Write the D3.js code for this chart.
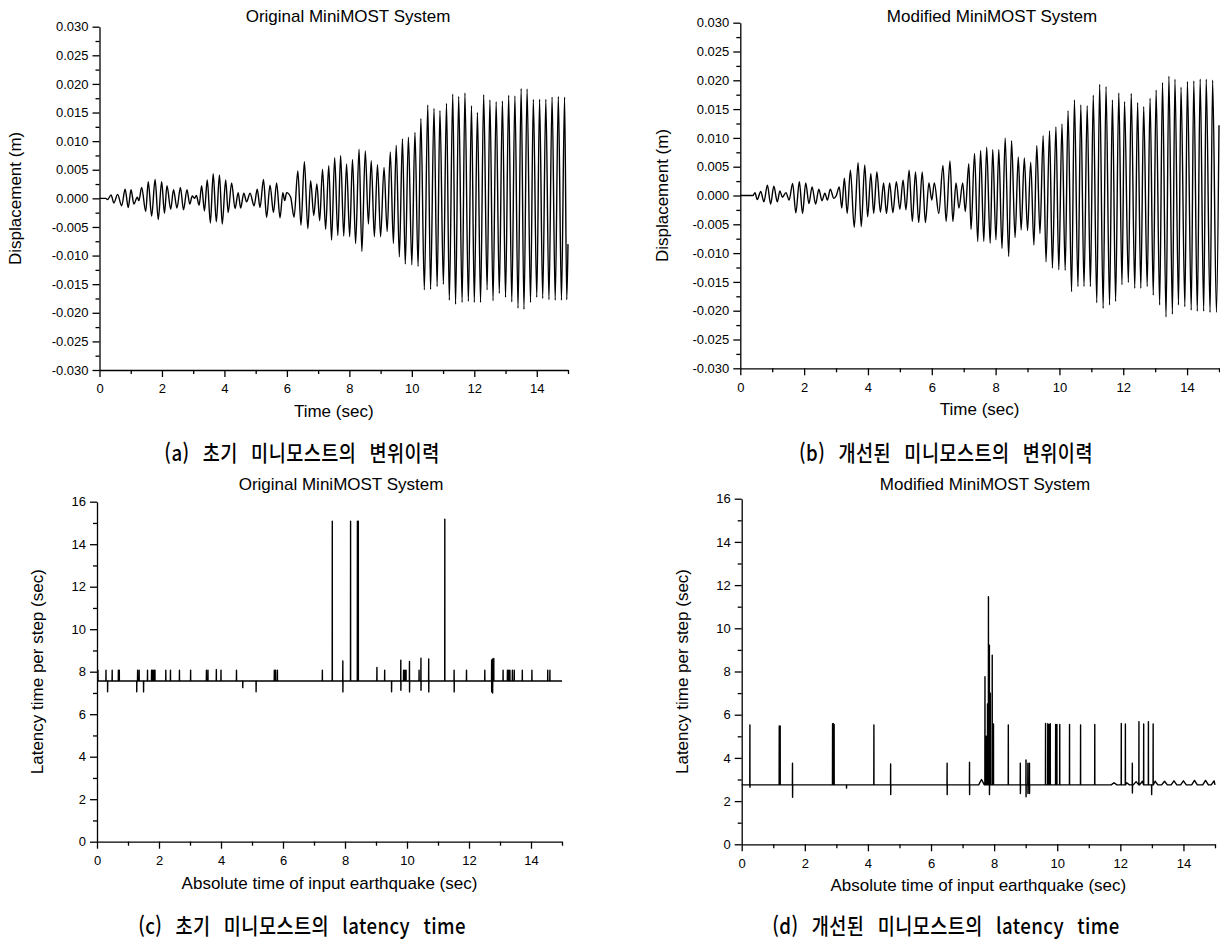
<!DOCTYPE html>
<html lang="ko">
<head>
<meta charset="UTF-8">
<title>MiniMOST displacement and latency</title>
<script src="https://d3js.org/d3.v7.min.js"></script>
<style>
  body { margin: 0; background: #fff; }
  svg text { font-family: "Liberation Sans", Arial, sans-serif; fill: #000; }
  svg text.cap { font-family: "Noto Sans CJK KR", sans-serif; font-weight: 500; letter-spacing: 0.5px; word-spacing: 9px; }
</style>
</head>
<body>
<svg width="1220" height="941"></svg>
<script>
// ---- displacement histories: peak / trough values (m) ----
const timeA = [0, 0.20, 0.26, 0.37, 0.46, 0.58, 0.71, 0.82, 0.92, 1.01, 1.10, 1.21, 1.26, 1.35, 1.48, 1.56, 1.67, 1.78, 1.88, 1.99,
  2.08, 2.16, 2.28, 2.37, 2.48, 2.59, 2.69, 2.80, 2.89, 2.97, 3.04, 3.10, 3.19, 3.27, 3.36, 3.45, 3.55, 3.64, 3.74, 3.84,
  3.93, 4.04, 4.12, 4.23, 4.34, 4.44, 4.52, 4.62, 4.71, 4.82, 4.95, 5.05, 5.14, 5.25, 5.35, 5.46, 5.57, 5.67, 5.78, 5.87,
  5.93, 5.99, 6.12, 6.23, 6.35, 6.45, 6.56, 6.67, 6.76, 6.86, 6.96, 7.05, 7.14, 7.24, 7.34, 7.43, 7.53, 7.63, 7.72, 7.82,
  7.91, 8.01, 8.10, 8.20, 8.31, 8.40, 8.51, 8.61, 8.70, 8.80, 8.90, 9.00, 9.11, 9.21, 9.31, 9.41, 9.50, 9.60, 9.70, 9.79,
  9.89, 10.00, 10.10, 10.20, 10.29, 10.40, 10.51, 10.60, 10.71, 10.81, 10.90, 11.01, 11.11, 11.20, 11.31, 11.40, 11.50, 11.61, 11.70, 11.81,
  11.91, 12.00, 12.10, 12.20, 12.30, 12.41, 12.50, 12.60, 12.70, 12.80, 12.90, 13.00, 13.10, 13.20, 13.30, 13.40, 13.50, 13.59, 13.69, 13.80,
  13.89, 14.00, 14.09, 14.19, 14.29, 14.39, 14.49, 14.59, 14.69, 14.79, 14.89, 14.96, 15.00];
const dispA = [0, 0, -0.0002, 0.0006, -0.0008, 0.0007, -0.0013, 0.0016, -0.0016, 0.0015, -0.0010, 0.0002, -0.0004, 0.0019, -0.0023, 0.0029, -0.0031, 0.0033, -0.0037, 0.0029,
  -0.0026, 0.0022, -0.0019, 0.0015, -0.0017, 0.0019, -0.0020, 0.0015, -0.0010, 0.0004, 0.0000, 0.0005, -0.0012, 0.0022, -0.0022, 0.0032, -0.0043, 0.0043, -0.0041, 0.0041,
  -0.0045, 0.0032, -0.0025, 0.0027, -0.0018, 0.0010, -0.0017, 0.0009, -0.0006, 0.0009, -0.0013, 0.0016, -0.0016, 0.0033, -0.0033, 0.0023, -0.0025, 0.0027, -0.0034, 0.0010,
  -0.0004, 0.0010, 0.0002, -0.0033, 0.0048, -0.0047, 0.0064, -0.0053, 0.0031, -0.0030, 0.0025, -0.0039, 0.0051, -0.0054, 0.0057, -0.0073, 0.0071, -0.0065, 0.0075, -0.0066,
  0.0060, -0.0067, 0.0068, -0.0079, 0.0086, -0.0093, 0.0083, -0.0045, 0.0066, -0.0067, 0.0059, -0.0067, 0.0054, -0.0058, 0.0081, -0.0079, 0.0093, -0.0102, 0.0104, -0.0115,
  0.0107, -0.0116, 0.0115, -0.0119, 0.0139, -0.0160, 0.0163, -0.0159, 0.0157, -0.0154, 0.0153, -0.0150, 0.0166, -0.0178, 0.0182, -0.0185, 0.0178, -0.0182, 0.0184, -0.0180,
  0.0162, -0.0182, 0.0150, -0.0182, 0.0181, -0.0160, 0.0172, -0.0179, 0.0169, -0.0166, 0.0170, -0.0173, 0.0180, -0.0181, 0.0179, -0.0192, 0.0192, -0.0194, 0.0191, -0.0182,
  0.0173, -0.0173, 0.0173, -0.0175, 0.0173, -0.0177, 0.0177, -0.0178, 0.0178, -0.0178, 0.0177, -0.0177, -0.0080];

const timeB = [0, 0.40, 0.46, 0.53, 0.64, 0.74, 0.85, 0.95, 1.05, 1.16, 1.24, 1.32, 1.43, 1.53, 1.64, 1.74, 1.85, 1.95, 2.05, 2.15,
  2.25, 2.36, 2.46, 2.56, 2.65, 2.73, 2.82, 2.93, 3.01, 3.10, 3.18, 3.26, 3.35, 3.45, 3.57, 3.69, 3.79, 3.90, 3.99, 4.09,
  4.18, 4.28, 4.39, 4.49, 4.58, 4.68, 4.78, 4.89, 5.00, 5.10, 5.19, 5.29, 5.39, 5.49, 5.59, 5.70, 5.80, 5.91, 6.00, 6.08,
  6.22, 6.35, 6.45, 6.57, 6.66, 6.76, 6.85, 6.97, 7.05, 7.16, 7.23, 7.34, 7.44, 7.53, 7.63, 7.72, 7.83, 7.91, 8.01, 8.10,
  8.20, 8.30, 8.41, 8.50, 8.61, 8.71, 8.80, 8.90, 9.00, 9.10, 9.20, 9.29, 9.39, 9.49, 9.58, 9.69, 9.78, 9.89, 9.98, 10.08,
  10.18, 10.27, 10.38, 10.47, 10.58, 10.67, 10.77, 10.87, 10.97, 11.06, 11.17, 11.26, 11.37, 11.46, 11.57, 11.66, 11.76, 11.86, 11.96, 12.04,
  12.16, 12.25, 12.36, 12.45, 12.55, 12.64, 12.75, 12.84, 12.94, 13.03, 13.14, 13.23, 13.34, 13.43, 13.54, 13.62, 13.73, 13.81, 13.93, 14.01,
  14.13, 14.21, 14.32, 14.41, 14.52, 14.60, 14.72, 14.80, 14.92, 15.00];
const dispB = [0, 0, 0.0005, -0.0007, 0.0007, -0.0011, 0.0018, -0.0015, 0.0016, -0.0011, 0.0008, -0.0003, 0.0005, -0.0008, 0.0021, -0.0030, 0.0024, -0.0031, 0.0022, -0.0014,
  0.0015, -0.0015, 0.0011, -0.0009, 0.0004, -0.0008, 0.0011, -0.0005, 0.0000, 0.0015, -0.0022, 0.0030, -0.0031, 0.0044, -0.0055, 0.0057, -0.0054, 0.0053, -0.0037, 0.0038,
  -0.0031, 0.0041, -0.0029, 0.0022, -0.0031, 0.0022, -0.0030, 0.0024, -0.0024, 0.0027, -0.0025, 0.0044, -0.0045, 0.0041, -0.0047, 0.0041, -0.0047, 0.0022, -0.0008, 0.0022,
  -0.0031, 0.0052, -0.0045, 0.0060, -0.0045, 0.0022, -0.0022, 0.0022, -0.0028, 0.0055, -0.0059, 0.0073, -0.0080, 0.0078, -0.0080, 0.0084, -0.0083, 0.0080, -0.0077, 0.0080,
  -0.0092, 0.0100, -0.0106, 0.0095, -0.0073, 0.0067, -0.0060, 0.0065, -0.0061, 0.0058, -0.0086, 0.0087, -0.0066, 0.0104, -0.0115, 0.0112, -0.0126, 0.0119, -0.0129, 0.0124,
  -0.0130, 0.0147, -0.0167, 0.0166, -0.0158, 0.0157, -0.0158, 0.0156, -0.0158, 0.0174, -0.0186, 0.0193, -0.0196, 0.0189, -0.0190, 0.0166, -0.0184, 0.0178, -0.0155, 0.0163,
  -0.0151, 0.0177, -0.0161, 0.0161, -0.0161, 0.0154, -0.0158, 0.0169, -0.0173, 0.0183, -0.0190, 0.0196, -0.0211, 0.0207, -0.0206, 0.0202, -0.0190, 0.0188, -0.0193, 0.0198,
  -0.0199, 0.0199, -0.0201, 0.0202, -0.0201, 0.0202, -0.0203, 0.0200, -0.0203, 0.0122];

// ---- latency per step: baseline and spikes (sec) ----
const baseC = 7.56;
const spikeTimeC = [0.03, 0.29, 0.34, 0.49, 0.69, 0.72, 1.28, 1.31, 1.36, 1.50, 1.63, 1.76, 1.80, 1.84, 1.87, 2.22, 2.37, 2.66, 3.02, 3.53,
  3.58, 3.85, 4.00, 4.50, 4.70, 5.13, 5.72, 5.76, 5.82, 7.27, 7.59, 7.93, 8.18, 8.40, 8.43, 9.03, 9.28, 9.50, 9.80, 9.89,
  9.93, 9.97, 10.08, 10.39, 10.45, 10.70, 11.22, 11.52, 11.92, 12.51, 12.73, 12.76, 12.80, 13.10, 13.24, 13.28, 13.32, 13.40, 13.46, 13.72,
  14.03, 14.54, 14.61];
const spikeHighC = [8.07, 8.07, 7.56, 8.07, 8.07, 8.07, 7.56, 8.07, 8.07, 7.56, 8.07, 8.07, 8.07, 8.07, 8.07, 8.07, 8.07, 8.07, 8.07, 8.07,
  8.07, 8.10, 8.07, 8.07, 7.56, 7.56, 8.07, 8.07, 8.07, 8.07, 15.08, 8.51, 15.08, 15.08, 15.08, 8.20, 8.07, 7.56, 8.54, 8.07,
  8.07, 8.07, 8.48, 8.07, 8.63, 8.60, 15.18, 8.07, 8.07, 8.07, 8.55, 8.60, 8.62, 8.07, 8.07, 8.07, 8.07, 8.07, 8.07, 8.07,
  8.07, 8.07, 8.07];
const spikeLowC = [7.56, 7.56, 7.06, 7.56, 7.56, 7.56, 7.06, 7.56, 7.56, 7.05, 7.56, 7.56, 7.56, 7.56, 7.56, 7.56, 7.56, 7.56, 7.56, 7.56,
  7.56, 7.56, 7.56, 7.56, 7.25, 7.06, 7.56, 7.56, 7.56, 7.56, 7.56, 7.05, 7.56, 7.56, 7.56, 7.56, 7.56, 7.06, 7.13, 7.56,
  7.56, 7.56, 7.05, 7.56, 7.13, 7.05, 7.56, 7.05, 7.56, 7.56, 7.05, 7.00, 7.56, 7.56, 7.56, 7.56, 7.56, 7.56, 7.56, 7.56,
  7.56, 7.56, 7.56];

const baseD = 2.75;
const spikeTimeD = [0.26, 1.19, 1.22, 1.61, 2.88, 2.91, 2.93, 3.32, 4.19, 4.72, 6.51, 7.22, 7.71, 7.75, 7.79, 7.82, 7.85, 7.88, 7.94, 7.98,
  8.45, 8.83, 9.01, 9.07, 9.12, 9.63, 9.70, 9.74, 9.78, 9.95, 9.99, 10.08, 10.39, 10.74, 11.19, 12.03, 12.16, 12.38, 12.59, 12.74,
  12.89, 12.99, 13.04];
const spikeHighD = [5.53, 5.48, 5.48, 3.75, 5.58, 5.58, 5.55, 2.75, 5.53, 3.72, 3.75, 3.80, 7.76, 5.00, 6.50, 11.46, 9.22, 7.00, 8.76, 5.57,
  5.53, 3.75, 3.90, 3.75, 3.75, 5.59, 5.58, 5.55, 5.58, 5.55, 5.55, 5.55, 5.55, 5.53, 5.55, 5.59, 5.57, 3.75, 5.68, 5.57,
  5.68, 2.75, 5.57];
const spikeLowD = [2.64, 2.75, 2.75, 2.18, 2.75, 2.75, 2.75, 2.60, 2.75, 2.30, 2.30, 2.30, 2.75, 2.75, 2.75, 2.75, 2.30, 2.75, 2.75, 2.75,
  2.75, 2.35, 2.20, 2.35, 2.35, 2.75, 2.75, 2.75, 2.75, 2.75, 2.75, 2.75, 2.75, 2.75, 2.75, 2.75, 2.75, 2.37, 2.75, 2.75,
  2.75, 2.30, 2.75];
// slow humps on the baseline of (d)
const humpTimeD = [7.60, 11.80, 12.20, 12.50, 12.70, 13.10, 13.40, 13.70, 14.00, 14.35, 14.70, 14.97];
const humpValD = [3.00, 2.85, 2.85, 2.90, 2.92, 2.92, 2.92, 2.94, 2.94, 2.96, 2.96, 2.94];

// ---- ticks and texts ----
const timeTicks = [0, 2, 4, 6, 8, 10, 12, 14];
const timeMinor = [1, 3, 5, 7, 9, 11, 13, 15];
const dispTicks = [-0.030, -0.025, -0.020, -0.015, -0.010, -0.005, 0, 0.005, 0.010, 0.015, 0.020, 0.025, 0.030];
const dispMinor = [-0.0275, -0.0225, -0.0175, -0.0125, -0.0075, -0.0025, 0.0025, 0.0075, 0.0125, 0.0175, 0.0225, 0.0275];
const latTicks = [0, 2, 4, 6, 8, 10, 12, 14, 16];
const latMinor = [1, 3, 5, 7, 9, 11, 13, 15];
const titles = ["Original MiniMOST System", "Modified MiniMOST System", "Original MiniMOST System", "Modified MiniMOST System"];
const captions = ["(a) 초기 미니모스트의 변위이력", "(b) 개선된 미니모스트의 변위이력",
  "(c) 초기 미니모스트의 latency time", "(d) 개선된 미니모스트의 latency time"];

const svg = d3.select("svg");
svg.append("rect").attr("width", 1220).attr("height", 941).attr("fill", "#fff");

// panel layout (pixel boxes)
const panels = [
  {x0: 99.5, x1: 568, yTop: 26.7, yBot: 370, kind: "disp", t: timeA, v: dispA, ylab: "Displacement (m)", ylabX: 21, xlab: "Time (sec)", titleX: 348, titleY: 22, capX: 302, capY: 461},
  {x0: 740.3, x1: 1219, yTop: 22.7, yBot: 368.3, kind: "disp", t: timeB, v: dispB, ylab: "Displacement (m)", ylabX: 668, xlab: "Time (sec)", titleX: 992, titleY: 22, capX: 946, capY: 461},
  {x0: 97, x1: 562, yTop: 501.7, yBot: 841.7, kind: "lat", base: baseC, st: spikeTimeC, sh: spikeHighC, sl: spikeLowC, ht: [], hv: [],
   ylab: "Latency time per step (sec)", ylabX: 43, xlab: "Absolute time of input earthquake (sec)", titleX: 341, titleY: 490, capX: 302, capY: 934},
  {x0: 741.7, x1: 1215, yTop: 498.7, yBot: 844.3, kind: "lat", base: baseD, st: spikeTimeD, sh: spikeHighD, sl: spikeLowD, ht: humpTimeD, hv: humpValD,
   ylab: "Latency time per step (sec)", ylabX: 688, xlab: "Absolute time of input earthquake (sec)", titleX: 985, titleY: 490, capX: 946, capY: 934}
];

const capNodes = [];

panels.forEach((p, i) => {
  const g = svg.append("g");
  const x = d3.scaleLinear().domain([0, 15]).range([p.x0, p.x1]);
  const y = p.kind === "disp"
    ? d3.scaleLinear().domain([-0.03, 0.03]).range([p.yBot, p.yTop])
    : d3.scaleLinear().domain([0, 16]).range([p.yBot, p.yTop]);
  const yTicks = p.kind === "disp" ? dispTicks : latTicks;
  const yMinor = p.kind === "disp" ? dispMinor : latMinor;
  const yFmt = p.kind === "disp" ? (d => d.toFixed(3)) : (d => d);

  // data line
  let pts;
  if (p.kind === "disp") {
    pts = p.t.map((t, k) => [t, p.v[k]]);
  } else {
    pts = [[0, p.base], [15, p.base]];
    p.st.forEach((t, k) => {
      pts.push([t - 0.004, p.base], [t, p.sh[k]], [t + 0.002, p.sl[k]], [t + 0.006, p.base]);
    });
    p.ht.forEach((t, k) => {
      pts.push([t - 0.09, p.base], [t, p.hv[k]], [t + 0.09, p.base]);
    });
    pts.sort((a, b) => a[0] - b[0]);
    pts = pts.filter(d => d[0] >= 0 && d[0] <= 15);
  }
  const line = d3.line()
    .x(d => x(d[0])).y(d => y(d[1]))
    .curve(p.kind === "disp" ? d3.curveMonotoneX : d3.curveLinear);
  g.append("path").datum(pts)
    .attr("d", line)
    .attr("fill", "none")
    .attr("stroke", "#000")
    .attr("stroke-width", 1.4)
    .attr("stroke-linejoin", "round");

  // axes: major + minor ticks
  const xAx = g.append("g").attr("transform", `translate(0,${p.yBot})`)
    .call(d3.axisBottom(x).tickValues(timeTicks).tickSize(7).tickSizeOuter(0).tickPadding(7).tickFormat(d => d));
  g.append("g").attr("transform", `translate(0,${p.yBot})`)
    .call(d3.axisBottom(x).tickValues(timeMinor).tickSize(4).tickSizeOuter(0).tickFormat(""))
    .select(".domain").remove();
  const yAx = g.append("g").attr("transform", `translate(${p.x0},0)`)
    .call(d3.axisLeft(y).tickValues(yTicks).tickSize(7).tickSizeOuter(0).tickPadding(4).tickFormat(yFmt));
  g.append("g").attr("transform", `translate(${p.x0},0)`)
    .call(d3.axisLeft(y).tickValues(yMinor).tickSize(4).tickSizeOuter(0).tickFormat(""))
    .select(".domain").remove();
  g.selectAll(".domain, .tick line").attr("stroke", "#000").attr("stroke-width", 1.3);
  [xAx, yAx].forEach(a => a.selectAll("text")
    .attr("font-family", "Liberation Sans, Arial, sans-serif").attr("font-size", 13).attr("fill", "#000"));

  // axis titles
  g.append("text").attr("x", (p.x0 + p.x1) / 2).attr("y", p.yBot + 47)
    .attr("text-anchor", "middle").attr("font-size", 17).text(p.xlab);
  g.append("text").attr("transform", `translate(${p.ylabX},${(p.yTop + p.yBot) / 2}) rotate(-90)`)
    .attr("text-anchor", "middle").attr("font-size", 17).text(p.ylab);
  g.append("text").attr("x", p.titleX).attr("y", p.titleY)
    .attr("text-anchor", "middle").attr("font-size", 17).text(titles[i]);

  // korean caption (narrow face: scaled horizontally below)
  const cg = g.append("g").attr("transform", `translate(${p.capX},${p.capY})`);
  const ct = cg.append("text").attr("class", "cap")
    .attr("x", 0).attr("y", 0)
    .attr("text-anchor", "middle").attr("font-size", 22)
    .text(captions[i]);
  capNodes.push({g: cg, t: ct, p: p});
});

// caption (c) measured at about 328 px wide in the reference; use the same squeeze for all four
const wC = capNodes[2].t.node().getComputedTextLength();
const squeeze = Math.min(1, 328 / wC);
capNodes.forEach(c => c.g.attr("transform", `translate(${c.p.capX},${c.p.capY}) scale(${squeeze},1)`));
</script>
</body>
</html>
